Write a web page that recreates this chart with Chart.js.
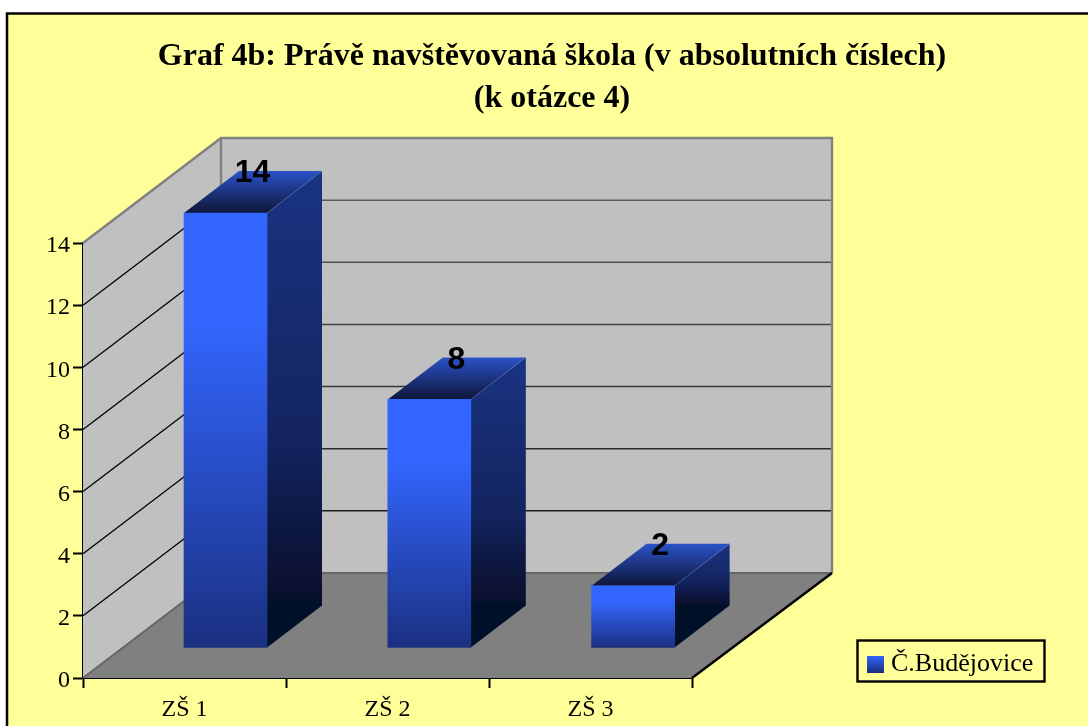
<!DOCTYPE html>
<html><head><meta charset="utf-8">
<style>html,body{margin:0;padding:0;background:#fff}#wrap{width:1088px;height:726px}</style>
<script src="https://cdn.jsdelivr.net/npm/chart.js@4"></script>
</head><body><div id="wrap"><canvas id="c" width="1088" height="726"></canvas></div>
<script>
const categories = ['ZŠ 1','ZŠ 2','ZŠ 3'];
const seriesName = 'Č.Budějovice';
const seriesValues = [14, 8, 2];
const titleLines = ['Graf 4b: Právě navštěvovaná škola (v absolutních číslech)','(k otázce 4)'];

const WALL = {dx:138, dy:105, extraRight:2};
const BAR = {dx:55, dy:42, shiftX:41, stepX:0.8, shiftY:-30};
const LEGEND = {left:857, top:640, right:1045, bottom:682};

function vGrad(ctx,y0,y1,stops){const g=ctx.createLinearGradient(0,y0,0,y1);stops.forEach(s=>g.addColorStop(s[0],s[1]));return g;}

class Bar3D extends Chart.BarController {
  draw(){
    const ctx=this.chart.ctx, els=this.getMeta().data;
    els.forEach((el,i)=>{
      const sx=BAR.shiftX+i*BAR.stepX, sy=BAR.shiftY;
      const l=el.x-el.width/2, r=el.x+el.width/2, t=el.y, b=el.base;
      ctx.save(); ctx.translate(sx,sy);
      ctx.fillStyle=vGrad(ctx,t-BAR.dy,b-BAR.dy,[[0,'#1a3482'],[.64,'#13235e'],[.83,'#0c1740'],[.96,'#0e1030'],[1,'#001028']]);
      ctx.beginPath();ctx.moveTo(r,t);ctx.lineTo(r+BAR.dx,t-BAR.dy);ctx.lineTo(r+BAR.dx,b-BAR.dy);ctx.lineTo(r,b);ctx.closePath();ctx.fill();
      ctx.fillStyle=vGrad(ctx,t-BAR.dy,t,[[0,'#2a52c8'],[1,'#0e1638']]);
      ctx.beginPath();ctx.moveTo(l,t);ctx.lineTo(l+BAR.dx,t-BAR.dy);ctx.lineTo(r+BAR.dx,t-BAR.dy);ctx.lineTo(r,t);ctx.closePath();ctx.fill();
      ctx.strokeStyle='rgba(90,120,220,.45)';ctx.lineWidth=1;
      ctx.beginPath();ctx.moveTo(r,t);ctx.lineTo(r+BAR.dx,t-BAR.dy);ctx.stroke();
      el.options.backgroundColor=vGrad(ctx,t,b,[[0,'#3366ff'],[.25,'#3366ff'],[1,'#1a3080']]);
      el.draw(ctx);
      ctx.restore();
    });
    ctx.save();
    ctx.font='bold 32px "Liberation Sans"';ctx.fillStyle='#000';ctx.textAlign='center';ctx.textBaseline='middle';
    els.forEach((el,i)=>{
      ctx.fillText(String(seriesValues[i]), el.x+BAR.shiftX+i*BAR.stepX+27, el.y+BAR.shiftY-39.5);
    });
    ctx.restore();
  }
}
Bar3D.id='bar3d';
Bar3D.defaults=Chart.BarController.defaults;
Chart.register(Bar3D);

const frame={id:'frame',beforeDraw(ch){
  const c=ch.ctx;c.save();
  c.fillStyle='#fff';c.fillRect(0,0,ch.width,ch.height);
  c.fillStyle='#FFFF99';c.strokeStyle='#000';c.lineWidth=2.5;
  c.fillRect(7,13.5,ch.width,ch.height);
  c.strokeRect(7,13.5,ch.width,ch.height);
  c.restore();
}};

const walls={id:'walls',beforeDatasetsDraw(ch){
  const c=ch.ctx,a=ch.chartArea,ys=ch.scales.y;
  const L=a.left,R=a.right,B=a.bottom,T=a.top,dx=WALL.dx,dy=WALL.dy,BR=R+dx+WALL.extraRight;
  c.save();
  c.fillStyle='#C0C0C0';
  c.beginPath();c.moveTo(L,B);c.lineTo(L,T);c.lineTo(L+dx,T-dy);c.lineTo(BR,T-dy);c.lineTo(BR,B-dy);c.lineTo(L+dx,B-dy);c.closePath();c.fill();
  c.fillStyle='#808080';
  c.beginPath();c.moveTo(L,B);c.lineTo(L+dx,B-dy);c.lineTo(BR,B-dy);c.lineTo(R,B);c.closePath();c.fill();
  ys.ticks.forEach(t=>{
    if(t.value===0||t.value===ys.max)return;
    const y=ys.getPixelForValue(t.value);
    c.strokeStyle='#000';c.lineWidth=1.3;c.beginPath();c.moveTo(L,y);c.lineTo(L+dx,y-dy);c.stroke();
    const g=Math.round(16+t.value/14*90);
    c.strokeStyle='rgb('+g+','+g+','+g+')';c.lineWidth=1.5;c.beginPath();c.moveTo(L+dx,y-dy);c.lineTo(BR,y-dy);c.stroke();
  });
  c.strokeStyle='#808080';c.lineWidth=2.4;
  c.beginPath();c.moveTo(L,T);c.lineTo(L+dx,T-dy);c.lineTo(BR,T-dy);c.lineTo(BR,B-dy);c.stroke();
  c.beginPath();c.moveTo(L+dx,T-dy);c.lineTo(L+dx,B-dy);c.stroke();
  c.strokeStyle='#666';c.lineWidth=2;
  c.beginPath();c.moveTo(L,B);c.lineTo(L+dx,B-dy);c.lineTo(BR,B-dy);c.stroke();
  c.strokeStyle='#000';c.lineWidth=2.5;
  c.beginPath();c.moveTo(R,B);c.lineTo(BR,B-dy);c.stroke();
  c.restore();
}};

const placement={id:'placement',
  afterLayout(ch){
    const l=ch.legend;l.left=LEGEND.left;l.right=LEGEND.right;l.top=LEGEND.top-4;l.bottom=LEGEND.bottom;
    const t=ch.titleBlock;t.left=16;t.right=ch.width;
  },
  afterDraw(ch){const c=ch.ctx;c.save();c.strokeStyle='#000';c.lineWidth=2.4;c.strokeRect(LEGEND.left+.5,LEGEND.top+.5,LEGEND.right-LEGEND.left-1,LEGEND.bottom-LEGEND.top-1);c.restore();}
};

const swatch=document.createElement('canvas');swatch.width=17;swatch.height=17;
{const s=swatch.getContext('2d');s.fillStyle=vGrad(s,0,17,[[0,'#3366ff'],[1,'#1a3080']]);s.fillRect(0,0,17,17);}

new Chart(document.getElementById('c'),{
  type:'bar3d',
  plugins:[frame,walls,placement],
  data:{labels:categories,datasets:[{label:seriesName,data:seriesValues,barThickness:83,borderWidth:0,clip:false,backgroundColor:'#3366ff'}]},
  options:{
    responsive:false,animation:false,events:[],
    layout:{padding:{left:16,right:396,top:36,bottom:0}},
    scales:{
      x:{type:'category',offset:true,
        grid:{offset:true,drawOnChartArea:false,tickLength:10,tickColor:'#000',tickWidth:2},
        border:{color:'#000',width:2},
        afterFit(s){s.height=48;},
        ticks:{color:'#000',font:{family:'"Liberation Serif"',size:24},padding:7,maxRotation:0,autoSkip:false}},
      y:{min:0,max:14,
        grid:{drawOnChartArea:false,tickLength:10,tickColor:'#000',tickWidth:2},
        border:{color:'#000',width:2},
        afterFit(s){s.width=67;},
        ticks:{stepSize:2,color:'#000',font:{family:'"Liberation Serif"',size:24},padding:3,labelOffset:3}}
    },
    plugins:{
      tooltip:{enabled:false},
      title:{display:true,text:titleLines,color:'#000',font:{family:'"Liberation Serif"',size:32,weight:'bold',lineHeight:1.3125},padding:{top:0,bottom:123}},
      legend:{display:true,position:'chartArea',align:'start',
        labels:{color:'#000',font:{family:'"Liberation Serif"',size:26},padding:15,usePointStyle:true,pointStyleWidth:6,boxHeight:17,
          generateLabels(){return [{text:seriesName,pointStyle:swatch,fillStyle:'#3366ff',lineWidth:0,strokeStyle:'transparent',hidden:false,datasetIndex:0}];}}}
    }
  }
});
</script></body></html>
